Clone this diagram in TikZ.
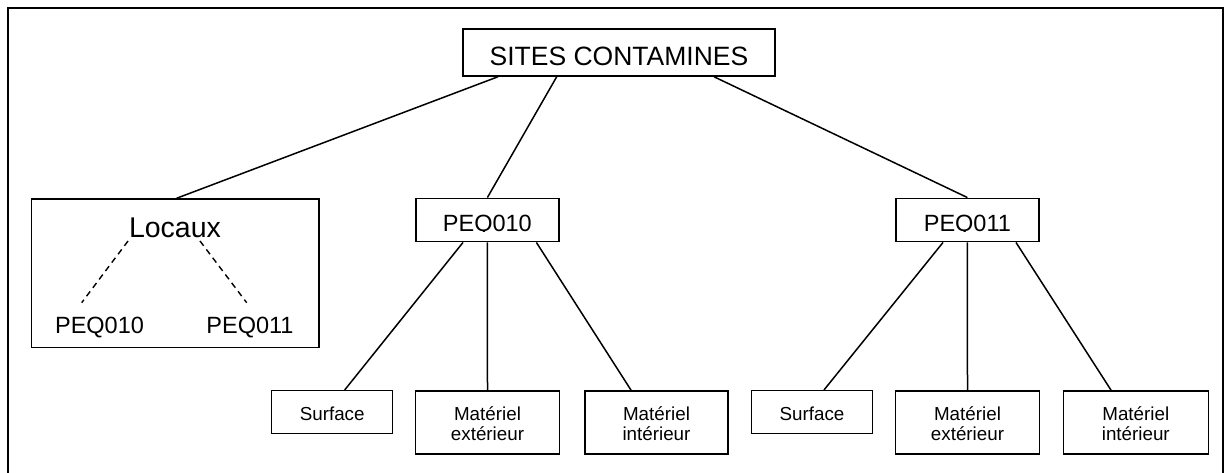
\documentclass[tikz,border=0pt]{standalone}
\usepackage{fontspec}
\setmainfont{Liberation Sans}
\begin{document}
\begin{tikzpicture}[x=1pt,y=-1pt,
  box/.style={draw, line width=1.5pt, inner sep=0pt, rectangle},
  lbl/.style={inner sep=0pt, anchor=base},
  link/.style={line width=1.5pt},
  dlink/.style={line width=1.4pt, dash pattern=on 6pt off 4.5pt},
  fsites/.style={font=\fontsize{26.5}{30}\selectfont},
  floc/.style={font=\fontsize{28.5}{32}\selectfont},
  fpeq/.style={font=\fontsize{23.5}{27}\selectfont},
  fsmall/.style={font=\fontsize{18.8}{20}\selectfont},
  leafone/.style={box, fsmall, minimum height=42.6pt, text height=16pt, text depth=0pt},
  leaftwo/.style={box, minimum height=63.3pt}
]
\useasboundingbox (0,0) rectangle (1232,472);
\fill[white] (0,0) rectangle (1232,472);
% outer frame (bottom edge lies outside the picture)
\draw[line width=2.2pt] (7.7,473) -- (7.7,7.7) -- (1222.7,7.7) -- (1222.7,473);

% root
\node[box, fsites, minimum width=312pt, minimum height=47pt, text height=25pt, text depth=0pt]
  (sites) at (619,52.5) {SITES CONTAMINES};

% Locaux box
\node[box, minimum width=287.3pt, minimum height=148.7pt] (locbox) at (175.35,273.35) {};
\node[lbl, floc] (loc) at (175,237) {Locaux};
\node[lbl, fpeq] (lpa) at (99.5,333.3) {PEQ010};
\node[lbl, fpeq] (lpb) at (250,333.3) {PEQ011};
\draw[dlink] ([xshift=-47pt,yshift=-4pt]loc.base) -- ([xshift=-17.8pt,yshift=30.6pt]lpa.base);
\draw[dlink] ([xshift=25pt,yshift=-4pt]loc.base) -- ([xshift=-3.3pt,yshift=30.6pt]lpb.base);

% PEQ boxes
\node[box, minimum width=143.3pt, minimum height=43.4pt] (peqa) at (487.4,220) {};
\node[box, minimum width=143.3pt, minimum height=43.4pt] (peqb) at (967.4,220) {};
\begin{scope}
  \clip (400,190) rectangle (1100,231);
  \node[lbl, fpeq] (peqatxt) at (487.4,231.5) {PEQ010};
  \node[lbl, fpeq] (peqbtxt) at (967.4,231.5) {PEQ011};
\end{scope}

% leaves under PEQ010
\node[leafone, minimum width=121pt] (surfa) at (332.2,412) {Surface};
\node[leaftwo, minimum width=143.6pt] (mea) at (487.5,422.5) {};
\node[lbl, fsmall] (meal1) at (487.5,420) {Matériel};
\node[lbl, fsmall] (meal2) at (487.5,440) {extérieur};
\node[leaftwo, minimum width=143pt] (mia) at (656.5,422.5) {};
\node[lbl, fsmall] (mial1) at (656.5,420) {Matériel};
\node[lbl, fsmall] (mial2) at (656.5,440) {intérieur};

% leaves under PEQ011
\node[leafone, minimum width=120.6pt] (surfb) at (812,412) {Surface};
\node[leaftwo, minimum width=143.6pt] (meb) at (967.5,422.5) {};
\node[lbl, fsmall] (mebl1) at (967.5,420) {Matériel};
\node[lbl, fsmall] (mebl2) at (967.5,440) {extérieur};
\node[leaftwo, minimum width=145pt] (mib) at (1135.8,422.5) {};
\node[lbl, fsmall] (mibl1) at (1135.8,420) {Matériel};
\node[lbl, fsmall] (mibl2) at (1135.8,440) {intérieur};

% connectors from root
\draw[link] ([xshift=-121pt]sites.south) -- ([xshift=1.3pt]locbox.north);
\draw[link] ([xshift=-62.3pt]sites.south) -- (peqa.north);
\draw[link] ([xshift=95pt]sites.south) -- (peqb.north);

% connectors from PEQ010
\draw[link] ([xshift=-24.4pt]peqa.south) -- ([xshift=12.5pt]surfa.north);
\draw[link] (peqa.south) -- (mea.north);
\draw[link] ([xshift=49pt]peqa.south) -- ([xshift=-25.5pt]mia.north);

% connectors from PEQ011
\draw[link] ([xshift=-24.4pt]peqb.south) -- ([xshift=12pt]surfb.north);
\draw[link] (peqb.south) -- (meb.north);
\draw[link] ([xshift=48.6pt]peqb.south) -- ([xshift=-24.8pt]mib.north);
\end{tikzpicture}
\end{document}
